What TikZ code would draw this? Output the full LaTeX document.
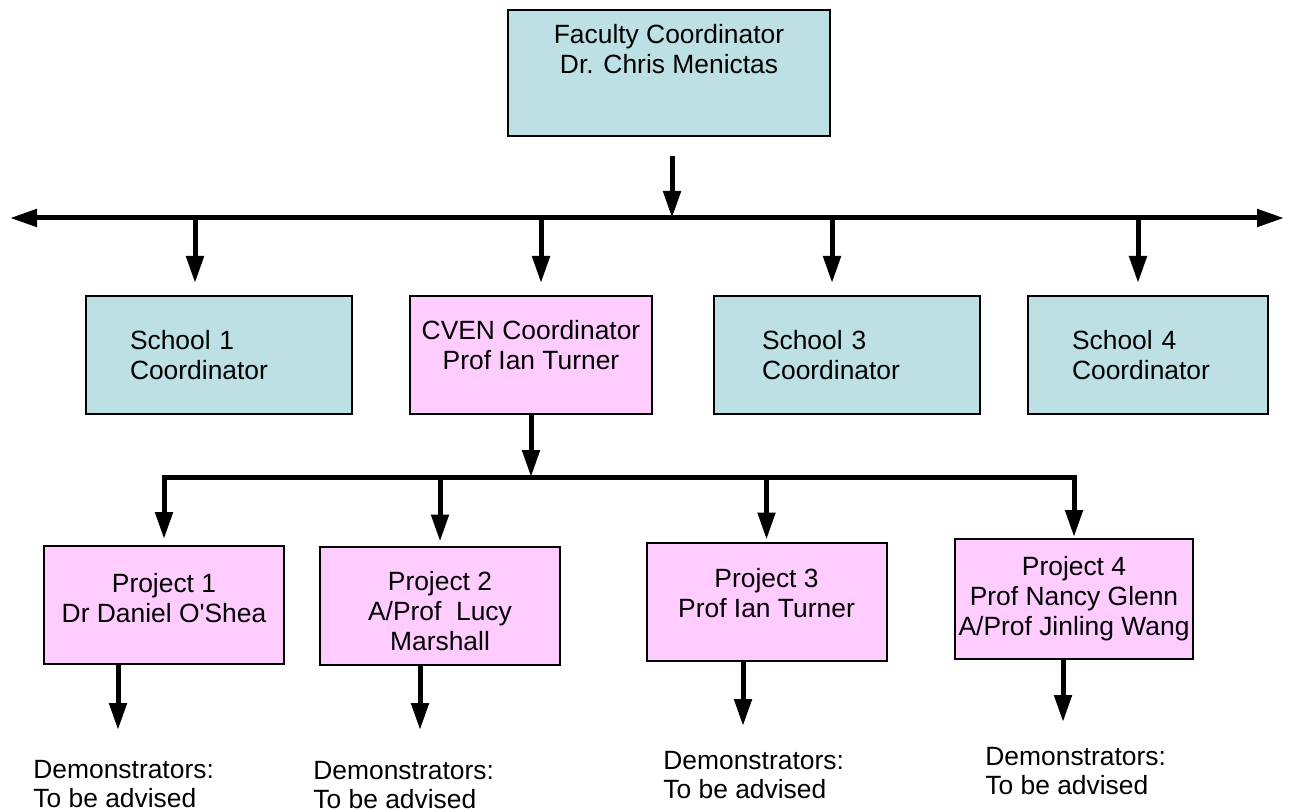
\documentclass[tikz,border=0pt]{standalone}
\usepackage{fontspec}
\setmainfont{Liberation Sans}
\usetikzlibrary{arrows.meta,positioning}
\definecolor{schoolblue}{RGB}{188,224,228}
\definecolor{projpink}{RGB}{255,204,255}

\begin{document}
\begin{tikzpicture}[x=0.5pt,y=-0.5pt,font=\fontsize{13.2}{15}\selectfont,
  >={Triangle[length=13.5pt,width=8.5pt]},
  every node/.style={inner sep=0pt},
  box/.style={draw,line width=1pt,minimum height=59pt},
  schoolbox/.style={box,fill=schoolblue,align=left,inner xsep=22pt},
  projbox/.style={box,fill=projpink,align=center,minimum width=120pt},
  demo/.style={align=left,anchor=north west,font=\fontsize{13.2}{14.5}\selectfont},
  arr/.style={->,line width=2.5pt}]
  \useasboundingbox (0,0) rectangle (1289,812);

  \node[box,fill=schoolblue,minimum width=161pt,minimum height=63pt] (fac) at (669,73) {};
  \node[align=center,below=7.5pt of fac.north] (facname) {Faculty Coordinator\\Dr. Chris Menictas};

  \node[schoolbox,text width=89pt]	(sc1)	at (219,355)	{School 1\\Coordinator};
  \node[box,fill=projpink,align=center,minimum width=121pt,text depth=10pt]	(cven)	at (531,355)	{CVEN Coordinator\\Prof Ian Turner};
  \node[schoolbox,text width=85pt,inner xsep=24pt]	(sc3)	at (847,355)	{School 3\\Coordinator};
  \node[schoolbox,text width=76pt]	(sc4)	at (1148,355)	{School 4\\Coordinator};

  \node[projbox,text depth=7.5pt]	(p1)	at (164,605)	{Project 1\\Dr Daniel O\textquotesingle Shea};
  \node[projbox,text height=45pt]	(p2)	at (440,605.5)	{Project 2\\A/Prof~ Lucy\\Marshall};
  \node[projbox,text depth=9pt]	(p3)	at (766.5,601.5)	{Project 3\\Prof Ian Turner};
  \node[projbox,minimum width=119pt,minimum height=60pt]	(p4)	at (1074,599)	{Project 4\\Prof Nancy Glenn\\A/Prof Jinling Wang};

  \node[demo]	(dm1)	at (33,760)	{Demonstrators:\\To be advised};
  \node[demo]	(dm2)	at (313,761)	{Demonstrators:\\To be advised};
  \node[demo]	(dm3)	at (663,751)	{Demonstrators:\\To be advised};
  \node[demo]	(dm4)	at (985,747)	{Demonstrators:\\To be advised};

  % faculty bus
  \coordinate (busL) at (10,218);
  \coordinate (busR) at (1284,218);
  \coordinate (bustop) at (672,218);
  \draw[arr] ([yshift=-9.5pt]fac.south -| bustop) -- (bustop);
  \draw[arr,<->] (busL) -- (busR);
  \foreach \x/\n in {195/sc1,541/cven,832/sc3,1138/sc4}{
    \coordinate (d) at (\x,218);
    \draw[arr,shorten >=6pt] (d) -- (d |- \n.north);
  }

  % project bus
  \coordinate (cvbus) at (531,477);
  \draw[arr] (cven.south) -- (cvbus);
  \draw[arr,shorten >=3pt] (cvbus) -| (p1.north);
  \draw[arr,shorten >=0.5pt] (cvbus) -| (p4.north);
  \draw[arr,shorten >=2pt] (p2.north |- cvbus) -- (p2.north);
  \draw[arr,shorten >=1pt] (p3.north |- cvbus) -- (p3.north);

  % to demonstrators
  \coordinate (t1) at (118,730);
  \coordinate (t2) at (420,730);
  \coordinate (t3) at (743,726);
  \coordinate (t4) at (1063,722);
  \draw[arr] (t1 |- p1.south) -- (t1);
  \draw[arr] (t2 |- p2.south) -- (t2);
  \draw[arr] (t3 |- p3.south) -- (t3);
  \draw[arr] (t4 |- p4.south) -- (t4);
\end{tikzpicture}
\end{document}
